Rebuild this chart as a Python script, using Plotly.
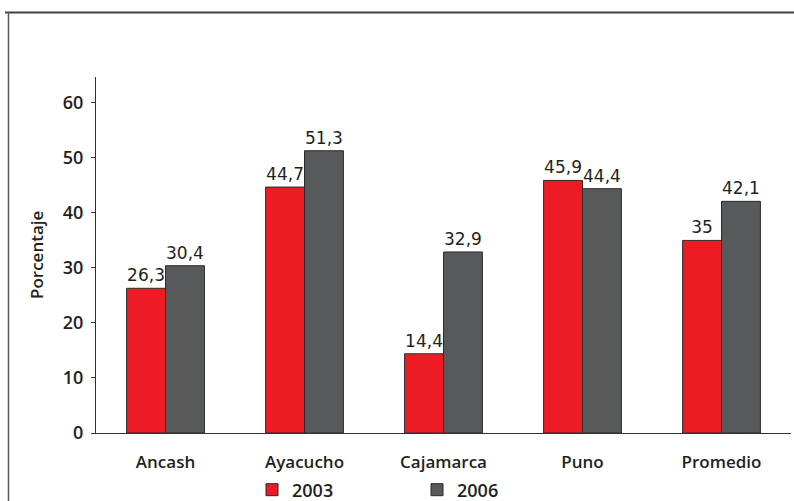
import plotly.graph_objects as go

# Regiones y porcentajes por año
regiones = ["Ancash", "Ayacucho", "Cajamarca", "Puno", "Promedio"]
valores_2003 = [26.3, 44.7, 14.4, 45.9, 35]
valores_2006 = [30.4, 51.3, 32.9, 44.4, 42.1]
ticks_y = [0, 10, 20, 30, 40, 50, 60]

ROJO = "#ED1C24"
GRIS = "#58595B"
BORDE = "#2b2b2b"
TEXTO = "#231f20"


def etiqueta(v):
    # formato con coma decimal
    s = f"{v:g}"
    return s.replace(".", ",")


fig = go.Figure()
for nombre, vals, color in [("2003", valores_2003, ROJO), ("2006", valores_2006, GRIS)]:
    fig.add_trace(go.Bar(
        name=nombre,
        x=regiones,
        y=vals,
        marker=dict(color=color, line=dict(color=BORDE, width=1)),
        text=[etiqueta(v) for v in vals],
        textposition="outside",
        cliponaxis=False,
        textfont=dict(family="DejaVu Sans", size=17, color=TEXTO),
    ))

W, H = 794, 501
ML, MR, MT, MB = 96, 3, 77, 68

fig.update_layout(
    width=W, height=H,
    margin=dict(l=ML, r=MR, t=MT, b=MB, pad=0, autoexpand=False),
    paper_bgcolor="white",
    plot_bgcolor="white",
    barmode="group",
    bargap=0.44,
    bargroupgap=0,
    showlegend=True,
    legend=dict(
        orientation="h",
        x=(252 - ML) / (W - ML - MR),
        xanchor="left",
        y=(H - MB - 490) / (H - MT - MB),
        yanchor="middle",
        font=dict(family="Open Sans", size=18, color=TEXTO, weight=600),
        entrywidth=120,
        entrywidthmode="pixels",
        bgcolor="rgba(0,0,0,0)",
    ),
    font=dict(family="Open Sans", color=TEXTO),
)

fig.update_xaxes(
    range=[-0.5, 4.5],
    showline=True, linecolor="#333333", linewidth=1,
    ticks="outside", ticklen=14, tickcolor="rgba(0,0,0,0)",
    tickfont=dict(family="Open Sans", size=17, color=TEXTO, weight=600),
    showgrid=False, zeroline=False,
)
fig.update_yaxes(
    range=[0, 64.7],
    tickvals=ticks_y,
    showline=True, linecolor="#333333", linewidth=1,
    ticks="outside", ticklen=4, tickcolor="#333333",
    ticklabelstandoff=4,
    tickfont=dict(family="Open Sans", size=18, color=TEXTO, weight=600),
    showgrid=False, zeroline=False,
)

pw, ph = W - ML - MR, H - MT - MB


def px_x(p):
    return (p - ML) / pw


def px_y(p):
    return (H - MB - p) / ph


# Título del eje vertical
fig.add_annotation(
    text="Porcentaje", textangle=-90,
    xref="paper", yref="paper",
    x=px_x(36), y=px_y(255),
    showarrow=False, xanchor="center", yanchor="middle",
    font=dict(family="Open Sans", size=17, color=TEXTO, weight=600),
)

# Marco exterior (borde superior e izquierdo)
fig.add_shape(type="line", xref="paper", yref="paper",
              x0=px_x(5), x1=px_x(794), y0=px_y(12.5), y1=px_y(12.5),
              line=dict(color="#454545", width=2))
fig.add_shape(type="line", xref="paper", yref="paper",
              x0=px_x(8.5), x1=px_x(8.5), y0=px_y(12.5), y1=px_y(505),
              line=dict(color="#5a5a5a", width=1.5))

fig.write_html("out.html")
